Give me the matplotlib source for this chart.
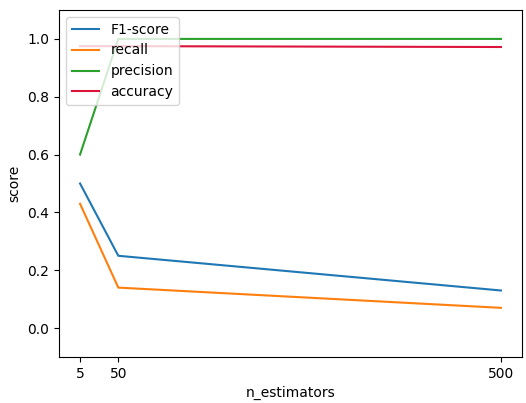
import matplotlib
matplotlib.use("Agg")
import matplotlib.pyplot as plt

n_estimators = [5, 50, 500]
f1_score = [0.50, 0.25, 0.13]
recall = [0.43, 0.14, 0.07]
precision = [0.60, 1.00, 1.00]
accuracy = [0.975, 0.975, 0.972]

fig = plt.figure(figsize=(5.26, 4.03), dpi=100)
ax = fig.add_axes([59/526, 1-357/403, (522-59)/526, (357-10)/403])
ax.plot(n_estimators, f1_score, label="F1-score")
ax.plot(n_estimators, recall, label="recall")
ax.plot(n_estimators, precision, label="precision", color="tab:green")
ax.plot(n_estimators, accuracy, label="accuracy", color="crimson")
ax.set_xticks(n_estimators)
ax.set_ylim(-0.1, 1.1)
ax.set_xlabel("n_estimators")
ax.set_ylabel("score")
ax.legend(loc="upper left")
fig.savefig("out.png", dpi=100)
